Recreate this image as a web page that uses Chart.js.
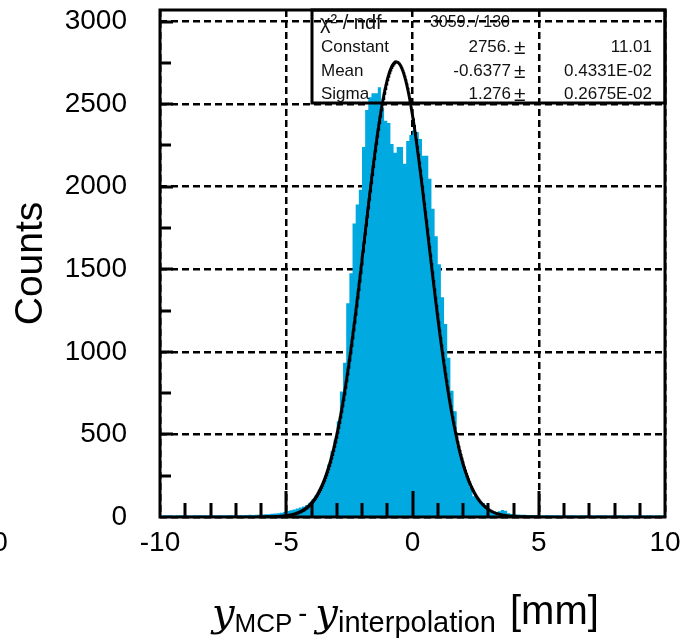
<!DOCTYPE html>
<html>
<head>
<meta charset="utf-8">
<script src="https://cdn.jsdelivr.net/npm/chart.js@4.4.1/dist/chart.umd.min.js"></script>
<style>
  html, body { margin: 0; padding: 0; background: #fff; }
</style>
</head>
<body>
<canvas id="histo" width="680" height="640"></canvas>
<script>
// histogram: 160 bins of 0.125 mm from -10 to 10
const binStart = -10;
const binWidth = 0.125;
const counts = [
  9, 10, 11, 10, 9, 10, 11, 10, 10, 9,
  10, 11, 10, 10, 11, 10, 9, 10, 11, 11,
  10, 11, 12, 11, 10, 12, 11, 12, 13, 12,
  13, 14, 15, 16, 17, 19, 21, 23, 26, 30,
  36, 41, 46, 52, 57, 64, 72, 86, 108, 132,
  165, 200, 250, 318, 398, 470, 580, 760, 934, 1295,
  1476, 1777, 1892, 1982, 2241, 2464, 2542, 2566, 2566, 2602,
  2480, 2400, 2386, 2259, 2205, 2241, 2241, 2139, 2277, 2313,
  2343, 2331, 2289, 2187, 2187, 2048, 1867, 1700, 1530, 1330,
  1169, 964, 765, 640, 430, 361, 290, 230, 180, 125,
  114, 95, 85, 72, 35, 30, 30, 35, 42, 38,
  22, 18, 16, 15, 14, 13, 12, 12, 11, 12,
  11, 10, 12, 11, 10, 11, 10, 9, 10, 11,
  10, 10, 9, 10, 11, 10, 10, 9, 10, 10,
  11, 10, 9, 10, 10, 11, 10, 9, 10, 10,
  10, 11, 10, 9, 10, 10, 9, 10, 11, 10
];

const xTicks = [-10, -5, 0, 5, 10];
const yTicks = [0, 500, 1000, 1500, 2000, 2500, 3000];
const yMax = 3070;

// gaussian fit as printed in the stats box
const fitConstant = 2756;
const fitMean = -0.6377;
const fitSigma = 1.276;
const fitRange = [-6.1, 5.0];

const statNames = ['Constant', 'Mean', 'Sigma'];
const statValues = ['2756.', '-0.6377', '1.276'];
const statErrors = ['11.01', '0.4331E-02', '0.2675E-02'];
const chi2Text = '3059. / 130';

const histColor = 'rgb(0,169,224)';
const sans = '"Liberation Sans", Arial, sans-serif';

const histPoints = counts.map((c, i) => ({ x: binStart + i * binWidth, y: c }));
histPoints.push({ x: binStart + counts.length * binWidth, y: counts[counts.length - 1] });

const fitPoints = [];
for (let x = fitRange[0]; x <= fitRange[1] + 1e-9; x += 0.02) {
  fitPoints.push({ x: x, y: fitConstant * Math.exp(-0.5 * Math.pow((x - fitMean) / fitSigma, 2)) });
}

// frame, inward ticks, stats box, axis title
const decorations = {
  id: 'decorations',
  afterDraw(chart) {
    const ctx = chart.ctx;
    const a = chart.chartArea;
    const xs = chart.scales.x, ys = chart.scales.y;
    ctx.save();

    // ticks
    ctx.strokeStyle = '#000';
    ctx.lineWidth = 3;
    ctx.beginPath();
    for (let v = -9; v <= 9; v++) {
      const px = Math.round(xs.getPixelForValue(v));
      const len = (v % 5 === 0) ? 26 : 14;
      ctx.moveTo(px, a.bottom);
      ctx.lineTo(px, a.bottom - len);
    }
    for (let v = 250; v < yMax; v += 250) {
      const py = Math.round(ys.getPixelForValue(v));
      const len = (v % 500 === 0) ? 13 : 11;
      ctx.moveTo(a.left, py);
      ctx.lineTo(a.left + len, py);
    }
    ctx.stroke();

    // stats box
    const bx = 312, by = a.top, bw = a.right - bx, bh = 103 - a.top;
    ctx.lineWidth = 3;
    ctx.strokeRect(bx, by, bw, bh);
    ctx.fillStyle = '#111';
    ctx.textBaseline = 'middle';
    ctx.font = '20px ' + sans;
    ctx.textAlign = 'left';
    ctx.fillText('\u03c7\u00b2 / ndf', 320, 23);
    ctx.font = '16px ' + sans;
    ctx.textAlign = 'right';
    ctx.fillText(chi2Text, 510, 23);
    const rowsY = [47, 71, 94];
    statNames.forEach((n, i) => {
      ctx.textAlign = 'left';
      ctx.font = '17px ' + sans;
      ctx.fillText(n, 321, rowsY[i]);
      ctx.textAlign = 'right';
      ctx.fillText(statValues[i], 511, rowsY[i]);
      ctx.fillText(statErrors[i], 652, rowsY[i]);
      ctx.font = '21px ' + sans;
      ctx.textAlign = 'left';
      ctx.fillText('\u00b1', 514, rowsY[i] + 1);
    });

    // frame
    ctx.lineWidth = 3;
    ctx.strokeStyle = '#000';
    ctx.strokeRect(a.left, a.top, a.right - a.left, a.bottom - a.top);

    // x axis title: y_MCP - y_interpolation [mm]
    ctx.fillStyle = '#000';
    ctx.textAlign = 'left';
    ctx.textBaseline = 'alphabetic';
    let x = 212;
    const put = (t, font, base) => {
      ctx.font = font;
      ctx.fillText(t, x, base);
      x += ctx.measureText(t).width;
    };
    put('y', 'italic 40px "DejaVu Serif", serif', 626);
    put('MCP', '26px ' + sans, 632);
    x += 6;
    put('-', '27px ' + sans, 622);
    x += 8;
    put('y', 'italic 40px "DejaVu Serif", serif', 626);
    put('interpolation', '29px ' + sans, 632);
    x += 14;
    put('[mm]', '40px ' + sans, 624);

    // leftover label from the neighbouring pad
    ctx.font = '28px ' + sans;
    ctx.textAlign = 'center';
    ctx.textBaseline = 'middle';
    ctx.fillText('0', 0, 543);
    ctx.restore();
  }
};

new Chart(document.getElementById('histo'), {
  type: 'line',
  data: {
    datasets: [
      {
        label: 'fit',
        data: fitPoints,
        borderColor: '#000',
        borderWidth: 3,
        pointRadius: 0,
        fill: false,
        tension: 0
      },
      {
        label: 'counts',
        data: histPoints,
        stepped: true,
        borderColor: 'rgba(0,0,0,0)',
        borderWidth: 0,
        backgroundColor: histColor,
        pointRadius: 0,
        fill: 'origin'
      }
    ]
  },
  options: {
    responsive: false,
    animation: false,
    devicePixelRatio: 1,
    layout: { padding: { top: 10, right: 15, left: 0, bottom: 0 } },
    plugins: { legend: { display: false }, tooltip: { enabled: false } },
    scales: {
      x: {
        type: 'linear',
        min: -10,
        max: 10,
        z: 1,
        afterBuildTicks: s => { s.ticks = xTicks.map(v => ({ value: v })); },
        afterFit: s => { s.height = 123; s.paddingLeft = 0; s.paddingRight = 0; },
        grid: { color: '#000', lineWidth: 2.5, drawTicks: false },
        border: { display: false, dash: [7, 4] },
        ticks: {
          color: '#000',
          font: { family: sans, size: 28 },
          padding: 9,
          maxRotation: 0,
          autoSkip: false,
          callback: v => String(v)
        }
      },
      y: {
        type: 'linear',
        min: 0,
        max: yMax,
        z: 1,
        afterBuildTicks: s => { s.ticks = yTicks.map(v => ({ value: v })); },
        afterFit: s => { s.width = 160; s.paddingTop = 0; s.paddingBottom = 0; },
        grid: { color: '#000', lineWidth: 2.5, drawTicks: false },
        border: { display: false, dash: [7, 4] },
        ticks: {
          color: '#000',
          font: { family: sans, size: 28 },
          padding: 33,
          callback: v => String(v)
        },
        title: {
          display: true,
          text: 'Counts',
          color: '#000',
          font: { family: sans, size: 39 },
          padding: { top: 8, bottom: 0 }
        }
      }
    }
  },
  plugins: [decorations]
});
</script>
</body>
</html>
